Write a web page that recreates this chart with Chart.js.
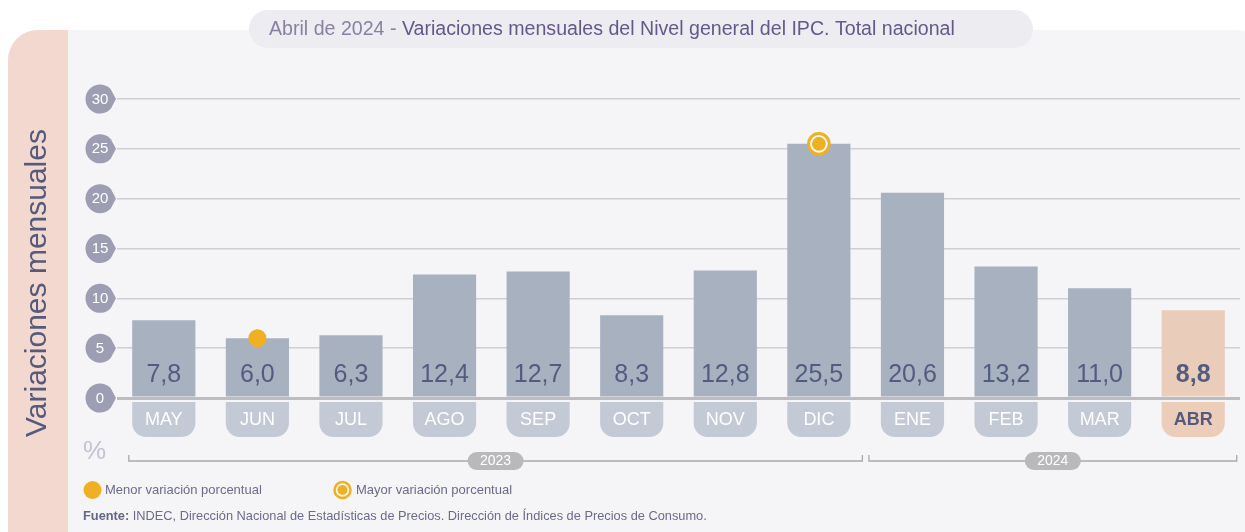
<!DOCTYPE html>
<html>
<head>
<meta charset="utf-8">
<script src="https://cdn.jsdelivr.net/npm/chart.js@4/dist/chart.umd.min.js"></script>
<style>
html,body{margin:0;padding:0;background:#ffffff;}
#wrap{width:1245px;height:532px;position:relative;}
canvas{display:block;}
</style>
</head>
<body>
<div id="wrap"><canvas id="c" width="1245" height="532"></canvas></div>
<script>
// ---- Data ----
const categories = ['MAY','JUN','JUL','AGO','SEP','OCT','NOV','DIC','ENE','FEB','MAR','ABR'];
const values = [7.8, 6.0, 6.3, 12.4, 12.7, 8.3, 12.8, 25.5, 20.6, 13.2, 11.0, 8.8];
const valueLabels = ['7,8','6,0','6,3','12,4','12,7','8,3','12,8','25,5','20,6','13,2','11,0','8,8'];
const minMarker = [null, 6.0, null, null, null, null, null, null, null, null, null, null];
const maxMarker = [null, null, null, null, null, null, null, 25.5, null, null, null, null];
const yTicks = [0, 5, 10, 15, 20, 25, 30];
const yearLabels = ['2023', '2024'];
const yearFirstIdx = [0, 8];
const yearLastIdx = [7, 11];
const highlightIdx = 11;
const titleLight = 'Abril de 2024 - ';
const titleMain = 'Variaciones mensuales del Nivel general del IPC. Total nacional';
const axisTitle = 'Variaciones mensuales';
const legendMin = 'Menor variación porcentual';
const legendMax = 'Mayor variación porcentual';
const sourceBold = 'Fuente:';
const sourceText = ' INDEC, Dirección Nacional de Estadísticas de Precios. Dirección de Índices de Precios de Consumo.';

const FONT = '"Liberation Sans", Arial, Helvetica, sans-serif';
const ORANGE = '#f0b023';
const BAR = '#a7b1bf';
const BAR_HI = '#e9ccb9';
const TAB = '#c3c9d5';
const TAB_HI = '#eccdba';
const VALC = '#525c80';
const BAR_DS = 3;

function rr(ctx, x, y, w, h, r) { // r = [tl,tr,br,bl]
  ctx.beginPath();
  ctx.moveTo(x + r[0], y);
  ctx.lineTo(x + w - r[1], y);
  if (r[1]) ctx.arcTo(x + w, y, x + w, y + r[1], r[1]);
  ctx.lineTo(x + w, y + h - r[2]);
  if (r[2]) ctx.arcTo(x + w, y + h, x + w - r[2], y + h, r[2]);
  ctx.lineTo(x + r[3], y + h);
  if (r[3]) ctx.arcTo(x, y + h, x, y + h - r[3], r[3]);
  ctx.lineTo(x, y + r[0]);
  if (r[0]) ctx.arcTo(x, y, x + r[0], y, r[0]);
  ctx.closePath();
}

const decor = {
  id: 'decor',
  beforeDraw(chart) {
    const ctx = chart.ctx;
    ctx.save();
    ctx.fillStyle = '#ffffff';
    ctx.fillRect(0, 0, 1245, 532);
    // card
    ctx.fillStyle = '#f5f5f7';
    rr(ctx, 8, 30, 1257, 520, [30, 30, 0, 0]);
    ctx.fill();
    // pink strip
    ctx.save();
    rr(ctx, 8, 30, 1257, 520, [30, 30, 0, 0]);
    ctx.clip();
    ctx.fillStyle = '#f2d8ce';
    ctx.fillRect(8, 30, 60, 510);
    ctx.restore();
    // title pill
    ctx.fillStyle = '#ececf1';
    rr(ctx, 249, 10, 784, 38, [19, 19, 19, 19]);
    ctx.fill();
    ctx.textBaseline = 'middle';
    ctx.textAlign = 'left';
    ctx.font = '19.6px ' + FONT;
    ctx.fillStyle = '#8a80a2';
    ctx.fillText(titleLight, 269, 30);
    const w1 = ctx.measureText(titleLight).width;
    ctx.fillStyle = '#65588a';
    ctx.fillText(titleMain, 269 + w1, 30);
    // rotated axis title
    ctx.save();
    ctx.translate(38, 283);
    ctx.rotate(-Math.PI / 2);
    ctx.textAlign = 'center';
    ctx.font = '30px ' + FONT;
    ctx.fillStyle = '#555a7c';
    ctx.fillText(axisTitle, 0, 0);
    ctx.restore();
    ctx.restore();
  },
  afterDatasetsDraw(chart) {
    const ctx = chart.ctx;
    const ys = chart.scales.y;
    const meta = chart.getDatasetMeta(BAR_DS);
    const base = ys.getPixelForValue(0);
    ctx.save();
    // value labels + tabs
    meta.data.forEach((bar, i) => {
      const hi = i === highlightIdx;
      const w = bar.width;
      const x0 = bar.x - w / 2;
      ctx.textAlign = 'center';
      ctx.textBaseline = 'middle';
      ctx.font = (hi ? 'bold ' : '') + '25px ' + FONT;
      ctx.fillStyle = VALC;
      ctx.fillText(valueLabels[i], bar.x, base - 23);
      ctx.fillStyle = hi ? TAB_HI : TAB;
      rr(ctx, x0, base + 4, w, 35, [0, 0, 14, 14]);
      ctx.fill();
      ctx.font = (hi ? 'bold ' : '') + '18px ' + FONT;
      ctx.fillStyle = hi ? '#55597d' : '#ffffff';
      ctx.fillText(categories[i], bar.x, base + 22);
    });
    ctx.restore();
  },
  afterDraw(chart) {
    const ctx = chart.ctx;
    const xs = chart.scales.x, ys = chart.scales.y;
    ctx.save();
    // y tick drops
    yTicks.forEach(v => {
      const y = ys.getPixelForValue(v);
      const cx = 100, r = 14.5, a = 0.72;
      ctx.beginPath();
      ctx.moveTo(116, y);
      ctx.arc(cx, y, r, a, 2 * Math.PI - a);
      ctx.closePath();
      ctx.fillStyle = '#9d9db4';
      ctx.fill();
      ctx.fillStyle = '#ffffff';
      ctx.font = '15px ' + FONT;
      ctx.textAlign = 'center';
      ctx.textBaseline = 'middle';
      ctx.fillText(String(v), cx, y + 0.5);
    });
    // %
    ctx.font = '26px ' + FONT;
    ctx.fillStyle = '#c2c2d2';
    ctx.textAlign = 'left';
    ctx.textBaseline = 'middle';
    ctx.fillText('%', 83, 452);
    // year brackets
    const by = 461;
    yearLabels.forEach((lab, k) => {
      const xa = xs.getPixelForValue(yearFirstIdx[k]) - (k === 0 ? 35 : 43.5);
      const xb = xs.getPixelForValue(yearLastIdx[k]) + 43.5;
      ctx.strokeStyle = '#a8a8ae';
      ctx.lineWidth = 1.3;
      ctx.beginPath();
      ctx.moveTo(xa, by - 6);
      ctx.lineTo(xa, by);
      ctx.lineTo(xb, by);
      ctx.lineTo(xb, by - 6);
      ctx.stroke();
      const mx = (xa + xb) / 2;
      ctx.fillStyle = '#b9b9bb';
      rr(ctx, mx - 28, by - 9, 56, 18, [9, 9, 9, 9]);
      ctx.fill();
      ctx.fillStyle = '#ffffff';
      ctx.font = '14px ' + FONT;
      ctx.textAlign = 'center';
      ctx.fillText(lab, mx, by + 0.5);
    });
    // legend
    ctx.fillStyle = ORANGE;
    ctx.beginPath(); ctx.arc(92.5, 490, 9, 0, Math.PI * 2); ctx.fill();
    ctx.font = '13px ' + FONT;
    ctx.textAlign = 'left';
    ctx.fillStyle = '#6b6b8b';
    ctx.fillText(legendMin, 105, 490.5);
    ctx.strokeStyle = ORANGE; ctx.lineWidth = 2.5;
    ctx.beginPath(); ctx.arc(342.5, 490, 8, 0, Math.PI * 2); ctx.stroke();
    ctx.fillStyle = ORANGE;
    ctx.beginPath(); ctx.arc(342.5, 490, 5, 0, Math.PI * 2); ctx.fill();
    ctx.fillStyle = '#6b6b8b';
    ctx.fillText(legendMax, 356, 490.5);
    // source
    ctx.font = 'bold 12.8px ' + FONT;
    ctx.fillStyle = '#65658a';
    ctx.fillText(sourceBold, 83, 516.5);
    const sw = ctx.measureText(sourceBold).width;
    ctx.font = '12.8px ' + FONT;
    ctx.fillStyle = '#6b6b8b';
    ctx.fillText(sourceText, 83 + sw, 516.5);
    ctx.restore();
  }
};

new Chart(document.getElementById('c'), {
  type: 'bar',
  data: {
    labels: categories,
    datasets: [
      {
        type: 'line', data: minMarker, showLine: false, order: 1,
        pointRadius: 9, pointBackgroundColor: ORANGE, pointBorderWidth: 0, pointHoverRadius: 9
      },
      {
        type: 'line', data: maxMarker, showLine: false, order: 1,
        pointRadius: 7, pointBackgroundColor: ORANGE, pointBorderWidth: 0, pointHoverRadius: 7
      },
      {
        type: 'line', data: maxMarker, showLine: false, order: 2,
        pointRadius: 10.3, pointBackgroundColor: '#ffffff', pointBorderColor: ORANGE, pointBorderWidth: 3, pointHoverRadius: 10.3
      },
      {
        type: 'bar', data: values, order: 3,
        backgroundColor: values.map((v, i) => i === highlightIdx ? BAR_HI : BAR),
        borderWidth: 0, barPercentage: 0.675, categoryPercentage: 1
      }
    ]
  },
  options: {
    responsive: false,
    animation: false,
    events: [],
    layout: { autoPadding: false, padding: { left: 117, right: 5, top: 99, bottom: 134 } },
    plugins: { legend: { display: false }, tooltip: { enabled: false } },
    scales: {
      x: { display: false, offset: true, grid: { display: false } },
      y: {
        display: true, min: 0, max: 30,
        ticks: { display: false, stepSize: 5 },
        border: { display: false },
        grid: {
          drawTicks: false,
          color: ctx => ctx.tick && ctx.tick.value === 0 ? '#bcbcc2' : '#cfcfd3',
          lineWidth: ctx => ctx.tick && ctx.tick.value === 0 ? 3 : 1.5
        },
        afterFit(s) { s.width = 0; }
      }
    }
  },
  plugins: [decor]
});
</script>
</body>
</html>
